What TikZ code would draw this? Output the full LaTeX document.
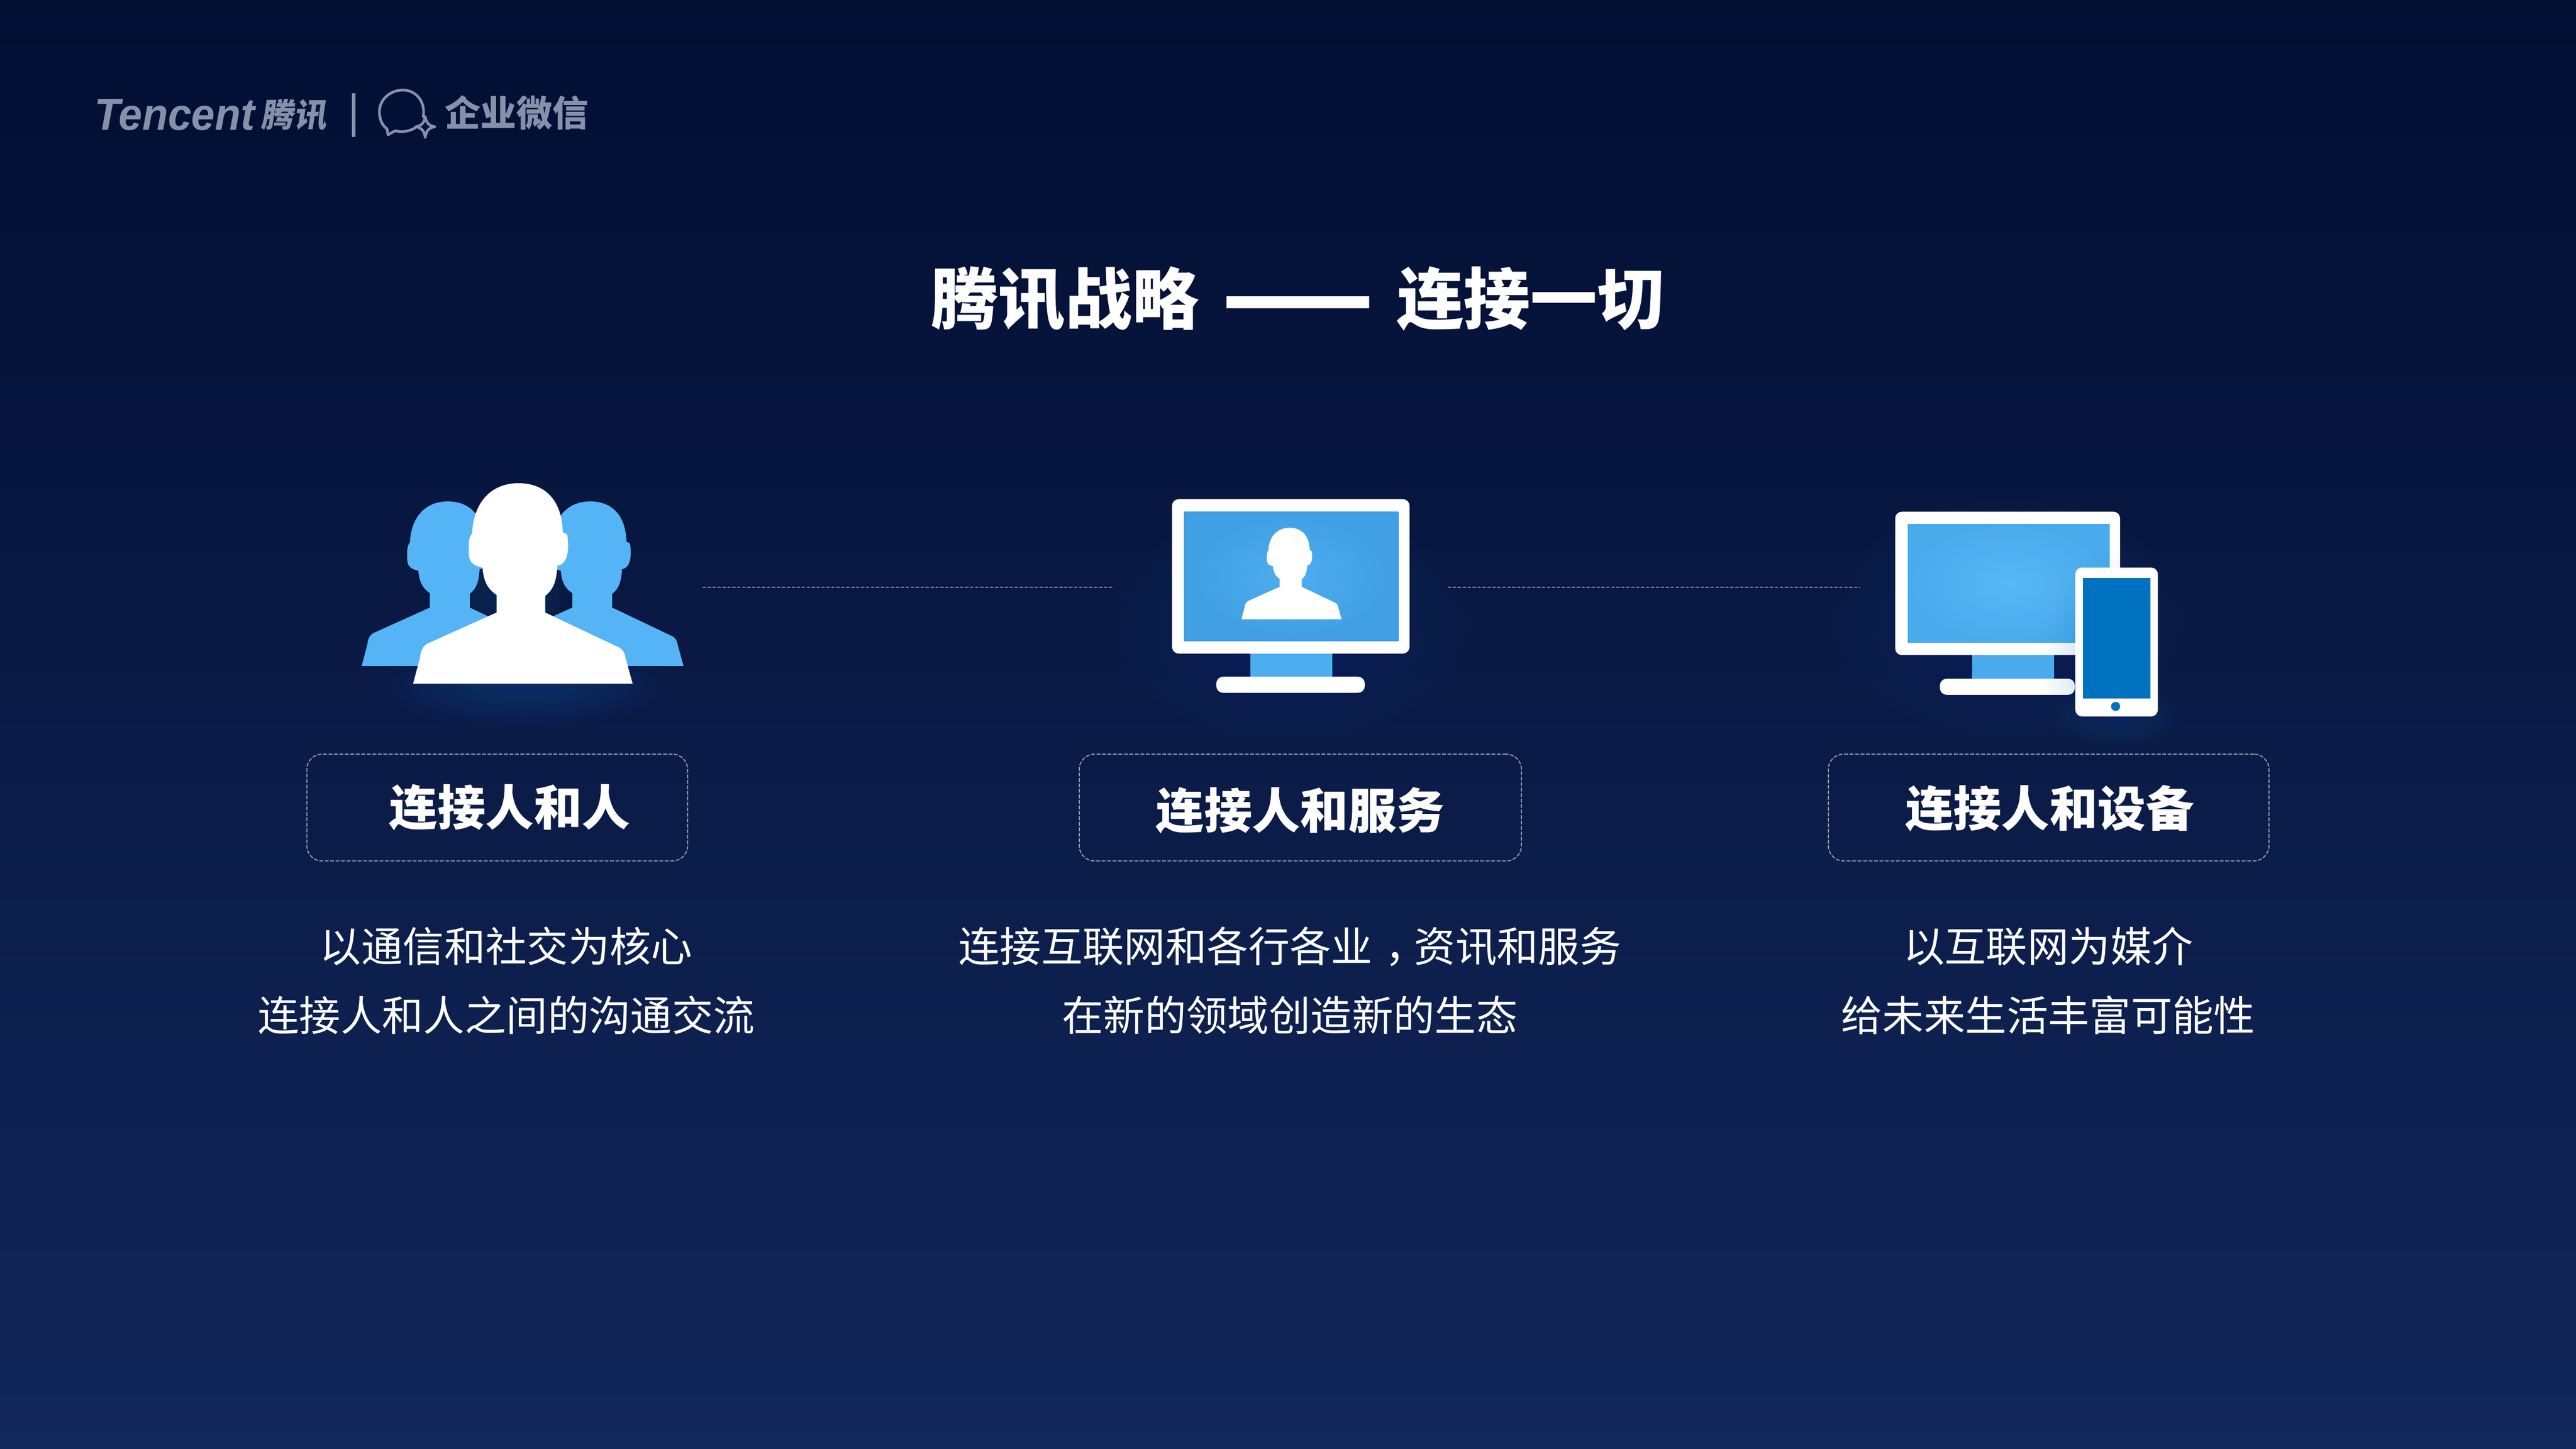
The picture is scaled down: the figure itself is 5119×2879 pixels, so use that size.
\documentclass[tikz,border=0pt]{standalone}
\usepackage{fontspec}
\setmainfont{Noto Sans CJK SC}
\newfontfamily\latinlogo{Liberation Sans}
\newfontfamily\slantcjk[FakeSlant=0.15]{Noto Sans CJK SC}
\usetikzlibrary{fadings}
\definecolor{bgtop}{HTML}{020E32}
\definecolor{bgbot}{HTML}{12275A}
\definecolor{skyblue}{HTML}{55B4F5}
\definecolor{screenA}{HTML}{4CADEF}
\definecolor{screenAe}{HTML}{419FE3}
\definecolor{screenB}{HTML}{57B7F7}
\definecolor{screenBe}{HTML}{4AABEC}
\definecolor{phoneblue}{HTML}{0072C0}
\definecolor{glowblue}{HTML}{0A4080}
\definecolor{logogray}{HTML}{8590AB}
\definecolor{dashgray}{HTML}{9A9DA8}
\tikzset{
  titletext/.style={text=white,inner sep=0pt,font=\fontsize{37.8pt}{38pt}\selectfont\bfseries},
  boxlabel/.style={text=white,inner sep=0pt,font=\fontsize{27.2pt}{28pt}\selectfont\bfseries},
  desctext/.style={text=white,inner sep=0pt,font=\fontsize{23.4pt}{24pt}\selectfont},
  dashbox/.style={draw=dashgray,line width=0.6pt,rounded corners=8.5pt,dash pattern=on 2.2pt off 0.9pt,minimum height=2.12cm,inner sep=0pt},
  linkline/.style={draw=dashgray,line width=0.55pt,dash pattern=on 1.9pt off 0.9pt},
  logotext/.style={text=logogray,inner sep=0pt},
  logoline/.style={draw=logogray,line width=1.5pt,line join=round,line cap=round},
  whitepart/.style={fill=white,rounded corners=3.8pt},
}
% soft glow: a stack of faint concentric ellipses
\newcommand{\softglow}[6]{% x y rx ry opacity-per-step colour
  \foreach \k in {1,...,24}{\fill[#6,opacity=#5] (#1,#2) ellipse ({#3*\k/24} and {#4*\k/24});}}
\newcommand{\personpath}{(745,172) .. controls (850,172) and (915,270) .. (918,450) -- (935,462) .. controls (945,560) and (935,630) .. (897,640) .. controls (893,720) and (885,770) .. (850,810) -- (850,905) -- (1140,1105) .. controls (1155,1120) and (1160,1140) .. (1163,1165) -- (1190,1308) -- (335,1308) -- (362,1160) .. controls (365,1110) and (380,1085) .. (400,1075) -- (660,905) -- (660,805) .. controls (620,765) and (610,720) .. (605,650) .. controls (570,640) and (550,620) .. (552,560) .. controls (550,500) and (555,470) .. (565,455) .. controls (570,280) and (640,172) .. (745,172) -- cycle}
\begin{document}
\begin{tikzpicture}[x=0.01cm,y=-0.01cm]
\useasboundingbox (0,0) rectangle (5119,2879);
\shade[top color=bgtop,bottom color=bgbot] (0,0) rectangle (5119,2879);

% logo
\node[logotext,anchor=west,font=\latinlogo\fontsize{25.4pt}{26pt}\selectfont\itshape\bfseries] (tencent) at (187,228) {\scalebox{.94}[1]{Tencent}};
\node[logotext,anchor=west,font=\slantcjk\fontsize{18.5pt}{19pt}\selectfont\bfseries] (tencentcn) at (518,228) {腾讯};
\draw[logogray,line width=1.9pt] (703,185) -- (703,272);
\draw[logoline] (841,232) .. controls (846,200) and (825,179) .. (801,179) .. controls (775,179) and (754,198) .. (754,222) .. controls (754,238) and (760,250) .. (769,256) -- (771,268) -- (785,260) .. controls (798,263) and (812,262) .. (825,254);
\draw[logoline] (845,232) .. controls (847,244) and (852,250) .. (864,252) .. controls (852,254) and (847,260) .. (845,273) .. controls (843,260) and (838,254) .. (826,252) .. controls (838,250) and (843,244) .. (845,232) -- cycle;
\node[logotext,anchor=west,font=\fontsize{20.3pt}{21pt}\selectfont\bfseries] (wecom) at (883,224) {企业微信};

% title
\node[titletext] (title) at (2579,594) {腾讯战略\hspace{4.6mm}\smash{\scalebox{1.32}[1.6]{\raisebox{-3.4pt}{——}}}\hspace{4.6mm}连接一切};

% glows
\softglow{1040}{1362}{285}{85}{.045}{glowblue}
\softglow{1020}{1180}{110}{90}{.03}{glowblue}
\softglow{2563}{1240}{350}{235}{.028}{glowblue}
\softglow{3990}{1230}{350}{235}{.028}{glowblue}
\softglow{4205}{1425}{130}{60}{.035}{glowblue}

% people
\begin{scope}[shift={(579,947)},xscale=.417,yscale=.288]
  \fill[skyblue] \personpath;
\end{scope}
\begin{scope}[shift={(862,947)},xscale=.417,yscale=.288]
  \fill[skyblue] \personpath;
\end{scope}
\begin{scope}[shift={(650,900)},xscale=.5102,yscale=.3508]
  \fill[white] \personpath;
\end{scope}

% monitor with person
\fill[screenA] (2485,1290) rectangle (2648,1350);
\fill[whitepart] (2329,992) rectangle (2801,1299);
\shade[inner color=screenA,outer color=screenAe] (2353,1017) rectangle (2779,1274);
\begin{scope}[shift={(2389,1021.4)},xscale=.2327,yscale=.1602]
  \fill[white] \personpath;
\end{scope}
\fill[whitepart] (2417,1345) rectangle (2712,1377);

% monitor with phone
\fill[screenBe] (3919,1295) rectangle (4082,1355);
\fill[whitepart] (3766,1017) rectangle (4213,1302);
\shade[inner color=screenB,outer color=screenBe] (3791,1042) rectangle (4192,1277);
\fill[whitepart] (3855,1349) rectangle (4123,1381);
\begin{scope}
  \clip (3766,1017) rectangle (4213,1302) (3855,1349) rectangle (4123,1381);
  \softglow{4206}{1330}{145}{235}{.012}{phoneblue}
\end{scope}
\fill[whitepart] (4124,1128) rectangle (4288,1424);
\fill[phoneblue] (4139,1149) rectangle (4273,1388);
\fill[phoneblue] (4204,1404) circle (9);

% connectors
\coordinate (linkAstart) at (1396,1167);
\coordinate (linkAend) at (2213,1167);
\coordinate (linkBstart) at (2877,1167);
\coordinate (linkBend) at (3696,1167);
\draw[linkline] (linkAstart) -- (linkAend);
\draw[linkline] (linkBstart) -- (linkBend);

% boxes
\node[dashbox,minimum width=7.56cm] (boxA) at (988,1605) {};
\node[dashbox,minimum width=8.78cm] (boxB) at (2584,1605) {};
\node[dashbox,minimum width=8.75cm] (boxC) at (4071,1605) {};
\node[boxlabel] (labelA) at (1013,1605) {连接人和人};
\node[boxlabel] (labelB) at (2584,1611) {连接人和服务};
\node[boxlabel] (labelC) at (4073,1607) {连接人和设备};

% descriptions
\node[desctext] (descA1) at (1006,1881) {以通信和社交为核心};
\node[desctext] (descA2) at (1006,2018) {连接人和人之间的沟通交流};
\node[desctext] (descB1) at (2563,1881) {连接互联网和各行各业\makebox[1em][l]{\hspace{.3em}，}资讯和服务};
\node[desctext] (descB2) at (2563,2018) {在新的领域创造新的生态};
\node[desctext] (descC1) at (4070,1881) {以互联网为媒介};
\node[desctext] (descC2) at (4070,2018) {给未来生活丰富可能性};
\end{tikzpicture}
\end{document}
